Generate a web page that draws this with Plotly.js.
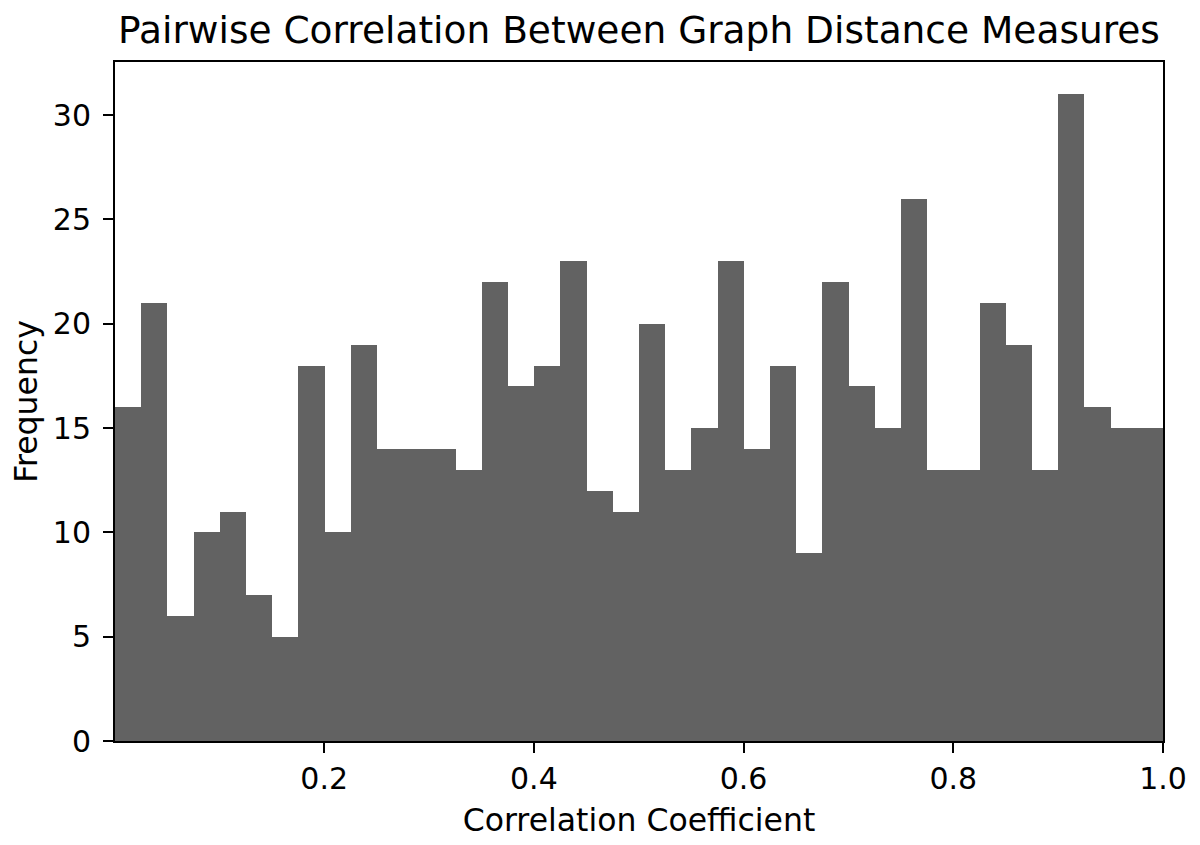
<!DOCTYPE html>
<html>
<head>
<meta charset="utf-8">
<script src="https://cdn.plot.ly/plotly-3.0.1.min.js"></script>
<style>
html,body{margin:0;padding:0;background:#fff;}
#chart{width:1200px;height:845px;}
</style>
</head>
<body>
<div id="chart"></div>
<script>
// Histogram counts (40 bins)
const binStart = 0.0005;
const binEnd = 1.0;
const counts = [16, 21, 6, 10, 11, 7, 5, 18, 10, 19,
                14, 14, 14, 13, 22, 17, 18, 23, 12, 11,
                20, 13, 15, 23, 14, 18, 9, 22, 17, 15,
                26, 13, 13, 21, 19, 13, 31, 16, 15, 15];
const xTickVals = [0.2, 0.4, 0.6, 0.8, 1.0];
const xTickText = ['0.2', '0.4', '0.6', '0.8', '1.0'];
const yTickVals = [0, 5, 10, 15, 20, 25, 30];

const nBins = counts.length;
const binWidth = (binEnd - binStart) / nBins;
const centers = counts.map((_, i) => binStart + binWidth * (i + 0.5));

const font = 'DejaVu Sans, sans-serif';

const trace = {
  type: 'bar',
  x: centers,
  y: counts,
  width: binWidth,
  marker: {color: '#626262', line: {width: 0}},
  hoverinfo: 'x+y'
};

const layout = {
  width: 1200,
  height: 845,
  margin: {l: 115, r: 37, t: 62, b: 104},
  paper_bgcolor: '#ffffff',
  plot_bgcolor: '#ffffff',
  bargap: 0,
  showlegend: false,
  font: {family: font, color: '#000000'},
  title: {
    text: 'Pairwise Correlation Between Graph Distance Measures',
    font: {family: font, size: 37.5, color: '#000000'},
    x: 0.5325, xanchor: 'center',
    y: 0.965, yanchor: 'middle'
  },
  xaxis: {
    range: [binStart, binEnd],
    tickmode: 'array',
    tickvals: xTickVals,
    ticktext: xTickText,
    ticks: 'outside',
    ticklen: 10,
    tickwidth: 2,
    tickcolor: '#000',
    showline: true,
    linecolor: '#000',
    linewidth: 2,
    mirror: true,
    showgrid: false,
    zeroline: false,
    tickfont: {family: font, size: 30, color: '#000'},
    title: {text: 'Correlation Coefficient', font: {family: font, size: 31.5, color: '#000'}, standoff: 14}
  },
  yaxis: {
    range: [0, 32.55],
    tickmode: 'array',
    tickvals: yTickVals,
    ticks: 'outside',
    ticklen: 10,
    tickwidth: 2,
    tickcolor: '#000',
    ticklabelstandoff: 6,
    showline: true,
    linecolor: '#000',
    linewidth: 2,
    mirror: true,
    showgrid: false,
    zeroline: false,
    tickfont: {family: font, size: 30, color: '#000'},
    title: {text: 'Frequency', font: {family: font, size: 31.5, color: '#000'}, standoff: 6}
  }
};

Plotly.newPlot('chart', [trace], layout, {displayModeBar: false, staticPlot: true});
</script>
</body>
</html>
